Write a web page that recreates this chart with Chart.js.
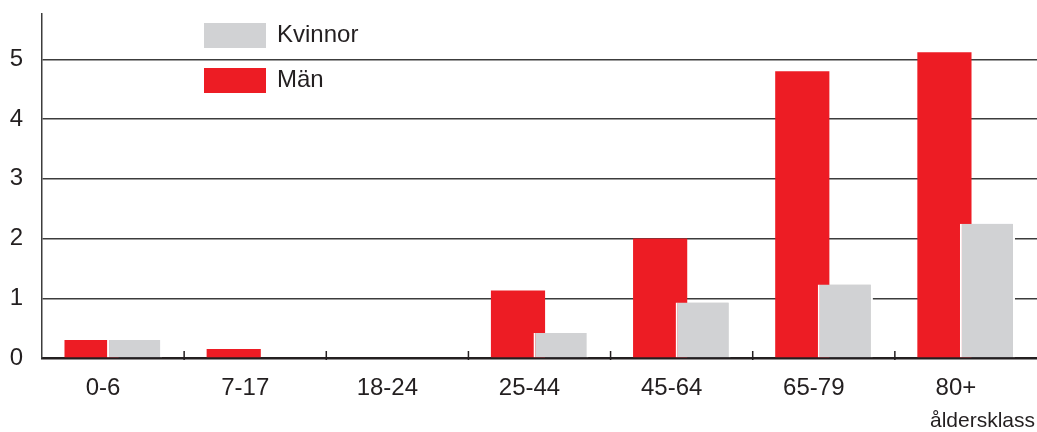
<!DOCTYPE html>
<html>
<head>
<meta charset="utf-8">
<script src="https://cdn.jsdelivr.net/npm/chart.js@4/dist/chart.umd.min.js"></script>
<style>
body { margin: 0; background: #fff; }
#wrap { position: relative; width: 1037px; height: 432px; font-family: 'Liberation Sans', Arial, Helvetica, sans-serif; color: #231f20; }
.box { position: absolute; left: 204px; width: 62px; height: 25px; }
.lbl { position: absolute; left: 277px; font-size: 24px; line-height: 25px; }
#xtitle { position: absolute; right: 2px; top: 409px; font-size: 21px; line-height: 22px; }
</style>
</head>
<body>
<div id="wrap">
  <canvas id="canvas"></canvas>
  <div class="box" id="boxK" style="top:23px"></div><div class="lbl" style="top:21px">Kvinnor</div>
  <div class="box" id="boxM" style="top:68px"></div><div class="lbl" style="top:66px">Män</div>
  <div id="xtitle">åldersklass</div>
</div>
<script>
const categories = ['0-6', '7-17', '18-24', '25-44', '45-64', '65-79', '80+'];
const man = [0.3, 0.15, 0, 1.13, 2.0, 4.8, 5.12];
const kvinnor = [0.3, 0, 0, 0.42, 0.93, 1.23, 2.25];

const red = '#ed1c24';
const grey = '#d1d2d4';
document.getElementById('boxK').style.background = grey;
document.getElementById('boxM').style.background = red;

// grey bars overlap the red ones, so draw them again on top
const greyOnTop = {
  id: 'greyOnTop',
  afterDatasetsDraw(chart) {
    chart.getDatasetMeta(1).controller.draw();
  },
  afterDraw(chart) {
    const x = chart.scales.x;
    const ctx = chart.ctx;
    const bottom = chart.chartArea.bottom;
    ctx.save();
    ctx.strokeStyle = '#231f20';
    ctx.lineWidth = 1.5;
    for (let i = 1; i < categories.length; i++) {
      const px = (x.getPixelForValue(i - 1) + x.getPixelForValue(i)) / 2;
      ctx.beginPath();
      ctx.moveTo(px, bottom - 7);
      ctx.lineTo(px, bottom + 2);
      ctx.stroke();
    }
    ctx.restore();
  }
};

Chart.defaults.font.family = "'Liberation Sans', Arial, Helvetica, sans-serif";
Chart.defaults.color = '#231f20';

new Chart(document.getElementById('canvas'), {
  type: 'bar',
  data: {
    labels: categories,
    datasets: [
      {
        label: 'Män',
        data: man,
        backgroundColor: red,
        borderWidth: 0,
        barPercentage: 1.26,
        categoryPercentage: 0.605
      },
      {
        label: 'Kvinnor',
        data: kvinnor,
        backgroundColor: grey,
        borderColor: '#ffffff',
        borderWidth: { left: 2, right: 2, top: 0, bottom: 0 },
        borderSkipped: false,
        barPercentage: 1.28,
        categoryPercentage: 0.605
      }
    ]
  },
  options: {
    responsive: true,
    maintainAspectRatio: false,
    animation: false,
    layout: { padding: { top: 14, right: 0, left: 0, bottom: 0 } },
    plugins: {
      legend: { display: false },
      tooltip: { enabled: false }
    },
    scales: {
      x: {
        afterFit(scale) { scale.height = 74; scale.paddingLeft = 0; scale.paddingRight = 0; },
        grid: { display: false },
        border: { display: true, color: '#231f20', width: 2.5 },
        ticks: { font: { size: 24 }, padding: 8, labelOffset: -10, maxRotation: 0 }
      },
      y: {
        min: 0,
        max: 5.76,
        afterFit(scale) { scale.width = 42; scale.paddingTop = 0; scale.paddingBottom = 0; },
        afterBuildTicks(scale) {
          scale.ticks = [0, 1, 2, 3, 4, 5].map(v => ({ value: v }));
        },
        grid: { color: '#3c3c3c', lineWidth: 1.5, drawTicks: false },
        border: { display: true, color: '#3c3c3c', width: 1.5 },
        ticks: { font: { size: 24 }, padding: 19 }
      }
    }
  },
  plugins: [greyOnTop]
});
</script>
</body>
</html>
